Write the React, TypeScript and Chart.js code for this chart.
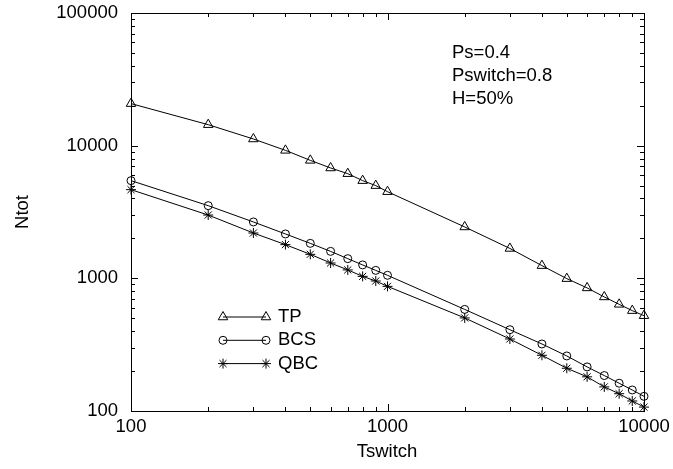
import React, { useEffect, useRef } from 'react';
import { Chart, registerables } from 'chart.js';
import { drawPoint } from 'chart.js/helpers';

Chart.register(...registerables);

const tswitch = [100, 200, 300, 400, 500, 600, 700, 800, 900, 1000, 2000, 3000, 4000, 5000, 6000, 7000, 8000, 9000, 10000];
const tpValues = [20750, 14400, 11230, 9220, 7750, 6790, 6150, 5450, 5000, 4500, 2440, 1680, 1247, 995, 847, 724, 637, 571, 523];
const bcsValues = [5450, 3530, 2660, 2160, 1835, 1597, 1407, 1262, 1148, 1054, 583, 410, 320, 260, 215, 185, 162, 144, 129];
const qbcValues = [4660, 3000, 2196, 1795, 1517, 1305, 1157, 1035, 955, 870, 503, 349, 263, 210, 181, 152, 135, 119, 107];

const seriesNames = ['TP', 'BCS', 'QBC'];
const seriesStyles = ['triangle', 'circle', 'star'];
const seriesRadii = [5.5, 4, 5];

const xTickValues = [100, 1000, 10000];
const yTickValues = [100, 1000, 10000, 100000];
const annotationLines = ['Ps=0.4', 'Pswitch=0.8', 'H=50%'];
const xTitle = 'Tswitch';
const yTitle = 'Ntot';

const FONT_FAMILY = '"Liberation Sans", Arial, Helvetica, sans-serif';
const FONT_SIZE = 18.5;

const gnuplotPlugin = {
  id: 'gnuplotDecor',
  afterDraw(chart: any) {
    const ctx = chart.ctx;
    const { left, right, top, bottom } = chart.chartArea;
    const xs = chart.scales.x;
    const ys = chart.scales.y;
    ctx.save();
    ctx.strokeStyle = '#000';
    ctx.lineWidth = 1;
    // border
    ctx.strokeRect(Math.round(left) + 0.5, Math.round(top) + 0.5, Math.round(right - left), Math.round(bottom - top));

    const major = 7;
    const minor = 4;
    ctx.beginPath();
    // x ticks
    for (let d = 100; d <= 10000; d *= 10) {
      for (let m = 1; m <= 9; m++) {
        const v = d * m;
        if (v > 10000) break;
        const px = Math.round(xs.getPixelForValue(v)) + 0.5;
        const len = m === 1 ? major : minor;
        ctx.moveTo(px, bottom);
        ctx.lineTo(px, bottom - len);
        ctx.moveTo(px, top);
        ctx.lineTo(px, top + len);
      }
    }
    // y ticks
    for (let d = 100; d <= 100000; d *= 10) {
      for (let m = 1; m <= 9; m++) {
        const v = d * m;
        if (v > 100000) break;
        const py = Math.round(ys.getPixelForValue(v)) + 0.5;
        const len = m === 1 ? major : minor;
        ctx.moveTo(left, py);
        ctx.lineTo(left + len, py);
        ctx.moveTo(right, py);
        ctx.lineTo(right - len, py);
      }
    }
    ctx.stroke();

    // annotation
    ctx.fillStyle = '#000';
    ctx.font = `${FONT_SIZE}px ${FONT_FAMILY}`;
    ctx.textAlign = 'left';
    ctx.textBaseline = 'middle';
    annotationLines.forEach((t, i) => {
      ctx.fillText(t, 452, 53 + i * 23);
    });

    // legend
    const lx1 = 223;
    const lx2 = 266;
    seriesNames.forEach((name, i) => {
      const y = 317 + i * 23.3;
      ctx.beginPath();
      ctx.moveTo(lx1, y);
      ctx.lineTo(lx2, y);
      ctx.strokeStyle = '#000';
      ctx.lineWidth = 1;
      ctx.stroke();
      ctx.fillStyle = 'rgba(0,0,0,0)';
      const opts = { pointStyle: seriesStyles[i], radius: seriesRadii[i], borderWidth: 1, rotation: 0 };
      drawPoint(ctx, opts as any, lx1, y);
      drawPoint(ctx, opts as any, lx2, y);
      ctx.fillStyle = '#000';
      ctx.textAlign = 'left';
      ctx.textBaseline = 'middle';
      ctx.fillText(name, 278, y);
    });

    // axis titles
    ctx.fillStyle = '#000';
    ctx.textAlign = 'center';
    ctx.textBaseline = 'middle';
    ctx.fillText(xTitle, 387, 452);
    ctx.translate(23, 212);
    ctx.rotate(-Math.PI / 2);
    ctx.fillText(yTitle, 0, 0);
    ctx.restore();
  },
};

function makeDataset(label: string, data: number[], i: number) {
  return {
    label,
    data: tswitch.map((x, k) => ({ x, y: data[k] })),
    borderColor: '#000',
    borderWidth: 1,
    pointStyle: seriesStyles[i],
    pointRadius: seriesRadii[i],
    pointBorderColor: '#000',
    pointBorderWidth: 1,
    pointBackgroundColor: 'rgba(0,0,0,0)',
    fill: false,
    tension: 0,
    clip: false,
  };
}

export default function App() {
  const canvasRef = useRef<HTMLCanvasElement | null>(null);

  useEffect(() => {
    const canvas = canvasRef.current;
    if (!canvas) return;
    const tickFont = { family: FONT_FAMILY, size: FONT_SIZE };
    const chart = new Chart(canvas, {
      type: 'line',
      data: {
        datasets: [
          makeDataset(seriesNames[0], tpValues, 0),
          makeDataset(seriesNames[1], bcsValues, 1),
          makeDataset(seriesNames[2], qbcValues, 2),
        ] as any,
      },
      options: {
        responsive: false,
        animation: false,
        devicePixelRatio: 1,
        layout: { padding: { left: 0, top: 13, right: 29, bottom: 0 } },
        plugins: {
          legend: { display: false },
          tooltip: { enabled: false },
          title: { display: false },
        },
        scales: {
          x: {
            type: 'logarithmic',
            min: 100,
            max: 10000,
            afterBuildTicks: (s: any) => {
              s.ticks = xTickValues.map((v) => ({ value: v }));
            },
            afterFit: (s: any) => {
              s.height = 58;
              s.paddingLeft = 0;
              s.paddingRight = 0;
            },
            ticks: {
              callback: (v: any) => String(v),
              font: tickFont,
              color: '#000',
              padding: 5,
              maxRotation: 0,
              autoSkip: false,
            },
            grid: { display: false, drawTicks: false },
            border: { display: false },
          },
          y: {
            type: 'logarithmic',
            min: 100,
            max: 100000,
            afterBuildTicks: (s: any) => {
              s.ticks = yTickValues.map((v) => ({ value: v }));
            },
            afterFit: (s: any) => {
              s.width = 131;
              s.paddingTop = 0;
              s.paddingBottom = 0;
            },
            ticks: {
              callback: (v: any) => String(v),
              font: tickFont,
              color: '#000',
              padding: 13,
              autoSkip: false,
            },
            grid: { display: false, drawTicks: false },
            border: { display: false },
          },
        },
      } as any,
      plugins: [gnuplotPlugin],
    });
    return () => chart.destroy();
  }, []);

  return (
    <div style={{ position: 'fixed', left: 0, top: 0, width: 673, height: 469, background: '#fff' }}>
      <canvas ref={canvasRef} width={673} height={469} style={{ display: 'block', width: 673, height: 469 }} />
    </div>
  );
}
